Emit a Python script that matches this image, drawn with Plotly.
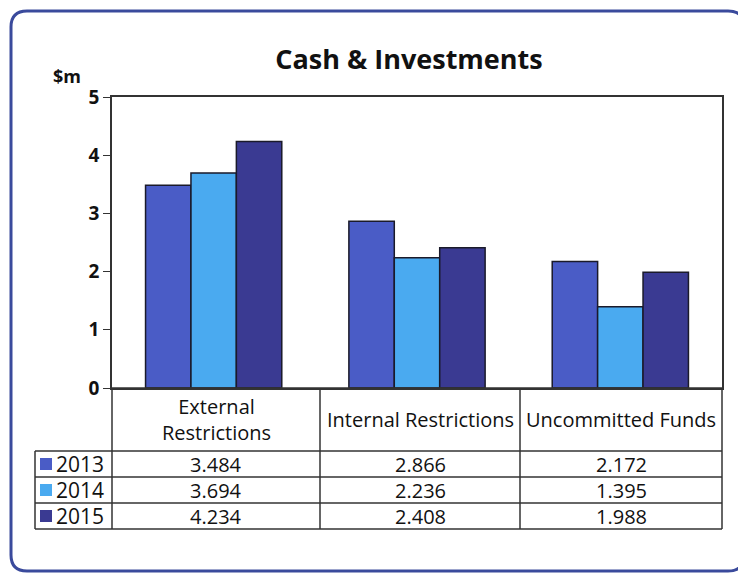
import plotly.graph_objects as go

categories = ["External Restrictions", "Internal Restrictions", "Uncommitted Funds"]
header_labels = ["External<br>Restrictions", "Internal Restrictions", "Uncommitted Funds"]
years = ["2013", "2014", "2015"]
values_2013 = [3.484, 2.866, 2.172]
values_2014 = [3.694, 2.236, 1.395]
values_2015 = [4.234, 2.408, 1.988]
value_labels = {
    "2013": ["3.484", "2.866", "2.172"],
    "2014": ["3.694", "2.236", "1.395"],
    "2015": ["4.234", "2.408", "1.988"],
}
y_ticks = [0, 1, 2, 3, 4, 5]
y_tick_labels = ["0", "1", "2", "3", "4", "5"]
colors = {"2013": "#4a5cc6", "2014": "#4aaaf0", "2015": "#3a3a92"}
series = {"2013": values_2013, "2014": values_2014, "2015": values_2015}

OFF = 8  # page body margin
W, H = 746 - OFF, 575 - OFF
PL, PT, PR, PB = 112, 97, 722, 388   # plot area in reference pixels
PW, PH = PR - PL, PB - PT
L, T = PL - OFF, PT - OFF
R, B = W - L - PW, H - T - PH
FONT = "'Open Sans', Lato, sans-serif"
TXT = "#111111"


def X(px):
    return (px - PL) / PW


def Y(py):
    return (PB - py) / PH


fig = go.Figure()
for yr in years:
    fig.add_trace(go.Bar(
        x=categories, y=series[yr], name=yr,
        marker=dict(color=colors[yr], line=dict(color="#1a1a2a", width=1.5)),
        showlegend=False, hoverinfo="x+y+name",
    ))

shapes = []
line_col = "#333333"

# outer rounded frame
x0, y0, x1, y1, r = 11, 11, 744, 571, 16
path = (
    f"M {X(x0 + r)} {Y(y0)} L {X(x1 - r)} {Y(y0)} Q {X(x1)} {Y(y0)} {X(x1)} {Y(y0 + r)} "
    f"L {X(x1)} {Y(y1 - r)} Q {X(x1)} {Y(y1)} {X(x1 - r)} {Y(y1)} "
    f"L {X(x0 + r)} {Y(y1)} Q {X(x0)} {Y(y1)} {X(x0)} {Y(y1 - r)} "
    f"L {X(x0)} {Y(y0 + r)} Q {X(x0)} {Y(y0)} {X(x0 + r)} {Y(y0)} Z"
)
shapes.append(dict(type="path", xref="paper", yref="paper", path=path,
                   line=dict(color="#3a4a9c", width=3), layer="below"))

# table grid
table_left = 35
col_bounds = [112, 320, 520, 722]
row_bounds = [388, 451, 477, 503, 529]
shapes.append(dict(type="line", xref="paper", yref="paper", x0=X(PL), x1=X(PR),
                   y0=Y(row_bounds[0]), y1=Y(row_bounds[0]), line=dict(color=line_col, width=1.5)))
for rb in row_bounds[1:]:
    shapes.append(dict(type="line", xref="paper", yref="paper", x0=X(table_left), x1=X(PR),
                       y0=Y(rb), y1=Y(rb), line=dict(color=line_col, width=1.5)))
shapes.append(dict(type="line", xref="paper", yref="paper", x0=X(table_left), x1=X(table_left),
                   y0=Y(row_bounds[1]), y1=Y(row_bounds[-1]), line=dict(color=line_col, width=1.5)))
for cb in col_bounds:
    shapes.append(dict(type="line", xref="paper", yref="paper", x0=X(cb), x1=X(cb),
                       y0=Y(row_bounds[0]), y1=Y(row_bounds[-1]), line=dict(color=line_col, width=1.5)))

annotations = []
for i, lab in enumerate(header_labels):
    cx = (col_bounds[i] + col_bounds[i + 1]) / 2
    annotations.append(dict(x=X(cx), y=Y((row_bounds[0] + row_bounds[1]) / 2), xref="paper", yref="paper",
                            text=lab, showarrow=False, font=dict(family=FONT, size=20, color=TXT),
                            xanchor="center", yanchor="middle"))
for j, yr in enumerate(years):
    cy = (row_bounds[j + 1] + row_bounds[j + 2]) / 2
    shapes.append(dict(type="rect", xref="paper", yref="paper", x0=X(40), x1=X(52),
                       y0=Y(cy - 6), y1=Y(cy + 6), fillcolor=colors[yr], line=dict(width=0)))
    annotations.append(dict(x=X(54), y=Y(cy), xref="paper", yref="paper", text=yr, showarrow=False,
                            font=dict(family=FONT, size=21, color=TXT), xanchor="left", yanchor="middle"))
    for i, vl in enumerate(value_labels[yr]):
        cx = (col_bounds[i] + col_bounds[i + 1]) / 2
        annotations.append(dict(x=X(cx), y=Y(cy), xref="paper", yref="paper", text=vl, showarrow=False,
                                font=dict(family=FONT, size=20, color=TXT), xanchor="center", yanchor="middle"))

annotations.append(dict(x=X(67), y=Y(76), xref="paper", yref="paper", text="<b>$m</b>", showarrow=False,
                        font=dict(family=FONT, size=18, color=TXT), xanchor="center", yanchor="middle"))

fig.update_layout(
    width=W, height=H,
    margin=dict(l=L, r=R, t=T, b=B, pad=0),
    paper_bgcolor="white", plot_bgcolor="white",
    barmode="group", bargap=0.33, bargroupgap=0,
    title=dict(text="<b>Cash &amp; Investments</b>", x=X(409), xref="paper", xanchor="center",
               y=1 - (60 - OFF) / H, yanchor="middle", font=dict(family=FONT, size=27, color=TXT)),
    xaxis=dict(showticklabels=False, ticks="", showgrid=False, showline=True, linecolor=line_col,
               linewidth=1.5, mirror=True, zeroline=False),
    yaxis=dict(range=[0, 5], tickvals=y_ticks, ticktext=[f"<b>{t}</b>" for t in y_tick_labels],
               ticks="outside", ticklen=7, tickcolor=line_col, showgrid=False, showline=True,
               linecolor=line_col, linewidth=1.5, mirror=True, zeroline=False,
               tickfont=dict(family=FONT, size=19, color=TXT)),
    shapes=shapes, annotations=annotations,
)

fig.write_html("out.html")
